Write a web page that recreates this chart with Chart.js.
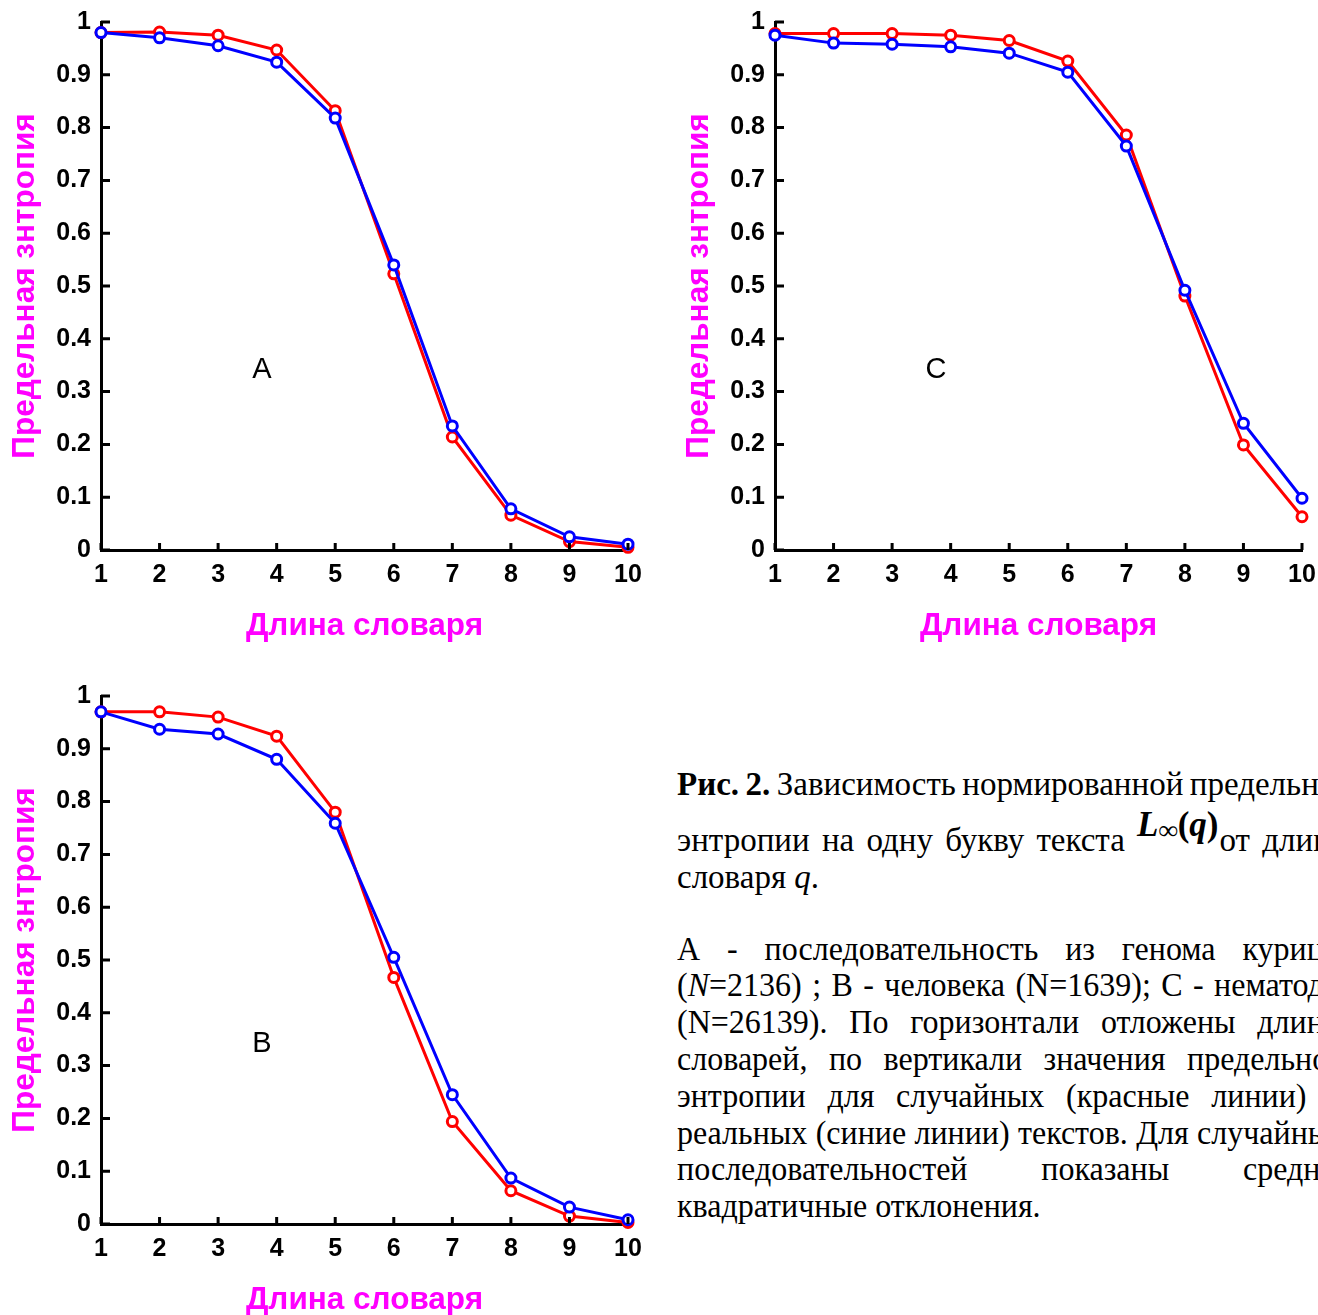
<!DOCTYPE html>
<html lang="ru">
<head>
<meta charset="utf-8">
<script src="https://cdn.jsdelivr.net/npm/chart.js@4.4.1/dist/chart.umd.min.js"></script>
<style>
html, body { margin: 0; padding: 0; background: #fff; }
body { width: 1318px; height: 1315px; overflow: hidden; position: relative; }
.box { position: absolute; width: 660px; height: 660px; }
.cap { position: absolute; left: 677px; font-family: "Liberation Serif", "Times New Roman", serif; font-size: 33px; line-height: 37px; color: #000; white-space: nowrap; transform-origin: 0 0; }
.p1 { transform: scaleX(1); }
.p2 { transform: scaleX(0.97); }
.p1.j { width: 676px; }
.p2.j { width: 689px; }
.j { display: flex; justify-content: space-between; align-items: baseline; }
.f { position: relative; top: -15px; font-size: 35px; margin-right: 1px; }
.f i { font-weight: bold; }
.f sub { font-size: 27px; font-weight: bold; vertical-align: -3px; line-height: 0; }
.f b { font-weight: bold; }
</style>
</head>
<body>
<div class="box" style="left:0;top:0"><canvas id="chartA" width="660" height="660"></canvas></div>
<div class="box" style="left:674px;top:0"><canvas id="chartC" width="660" height="660"></canvas></div>
<div class="box" style="left:0;top:674px"><canvas id="chartB" width="660" height="660"></canvas></div>

<div class="cap p1 j" style="top:766px"><span><b>Рис.</b></span><span><b>2.</b></span><span>Зависимость</span><span>нормированной</span><span>предельной</span></div>
<div class="cap p1 j" style="top:821px"><span>энтропии</span><span>на</span><span>одну</span><span>букву</span><span>текста</span><span><span class="f"><i>L</i><sub>∞</sub><b>(</b><i>q</i><b>)</b></span>от</span><span>длины</span></div>
<div class="cap p1" style="top:859px">словаря <i>q</i>.</div>
<div class="cap p2 j" style="top:931px"><span>А</span><span>-</span><span>последовательность</span><span>из</span><span>генома</span><span>курицы</span></div>
<div class="cap p2 j" style="top:967px"><span>(<i>N</i>=2136)</span><span>;</span><span>B</span><span>-</span><span>человека</span><span>(N=1639);</span><span>C</span><span>-</span><span>нематоды</span></div>
<div class="cap p2 j" style="top:1004px"><span>(N=26139).</span><span>По</span><span>горизонтали</span><span>отложены</span><span>длины</span></div>
<div class="cap p2 j" style="top:1041px"><span>словарей,</span><span>по</span><span>вертикали</span><span>значения</span><span>предельной</span></div>
<div class="cap p2 j" style="top:1078px"><span>энтропии</span><span>для</span><span>случайных</span><span>(красные</span><span>линии)</span><span>и</span></div>
<div class="cap p2 j" style="top:1115px"><span>реальных</span><span>(синие</span><span>линии)</span><span>текстов.</span><span>Для</span><span>случайных</span></div>
<div class="cap p2 j" style="top:1151px"><span>последовательностей</span><span>показаны</span><span>средне-</span></div>
<div class="cap p2" style="top:1188px">квадратичные отклонения.</div>

<script>
// словарь q = 1..10
const xLabels = ['1', '2', '3', '4', '5', '6', '7', '8', '9', '10'];
const yTickValues = [0, 0.1, 0.2, 0.3, 0.4, 0.5, 0.6, 0.7, 0.8, 0.9, 1];
const yTickLabels = ['0', '0.1', '0.2', '0.3', '0.4', '0.5', '0.6', '0.7', '0.8', '0.9', '1'];

// A - курица
const redA  = [0.98, 0.981, 0.975, 0.947, 0.832, 0.523, 0.214, 0.066, 0.016, 0.005];
const blueA = [0.98, 0.970, 0.955, 0.924, 0.818, 0.540, 0.235, 0.078, 0.025, 0.011];
// C - нематода
const redC  = [0.978, 0.978, 0.978, 0.975, 0.965, 0.926, 0.786, 0.481, 0.199, 0.063];
const blueC = [0.975, 0.960, 0.958, 0.953, 0.941, 0.905, 0.765, 0.492, 0.240, 0.098];
// B - человек
const redB  = [0.970, 0.970, 0.960, 0.924, 0.780, 0.467, 0.194, 0.063, 0.015, 0.003];
const blueB = [0.970, 0.937, 0.928, 0.880, 0.759, 0.505, 0.245, 0.087, 0.032, 0.008];

Chart.defaults.font.family = '"Liberation Sans", Arial, sans-serif';
Chart.defaults.color = '#000';

// ticks pointing inside the plot, like the matlab axes
const innerTicks = {
    id: 'innerTicks',
    afterDraw(chart) {
        const ctx = chart.ctx;
        const x = chart.scales.x, y = chart.scales.y;
        ctx.save();
        ctx.strokeStyle = '#000';
        ctx.lineWidth = 3;
        ctx.beginPath();
        y.ticks.forEach(t => {
            const py = y.getPixelForValue(t.value);
            ctx.moveTo(y.right, py);
            ctx.lineTo(y.right + 9, py);
        });
        x.ticks.forEach((t, i) => {
            const px = x.getPixelForTick(i);
            ctx.moveTo(px, x.top);
            ctx.lineTo(px, x.top - 7);
        });
        ctx.stroke();
        ctx.restore();
    }
};

const panelLetter = {
    id: 'panelLetter',
    afterDraw(chart, args, opts) {
        const ctx = chart.ctx;
        ctx.save();
        ctx.font = '29px "Liberation Sans", Arial, sans-serif';
        ctx.fillStyle = '#000';
        ctx.textAlign = 'center';
        ctx.textBaseline = 'middle';
        ctx.fillText(opts.text, chart.scales.x.getPixelForValue(opts.at[0]), chart.scales.y.getPixelForValue(opts.at[1]));
        ctx.restore();
    }
};

function makeChart(id, letter, red, blue) {
    return new Chart(document.getElementById(id), {
        type: 'line',
        data: {
            labels: xLabels,
            datasets: [
                { label: 'реальные', data: blue, borderColor: '#0000ff', pointBorderColor: '#0000ff' },
                { label: 'случайные', data: red, borderColor: '#ff0000', pointBorderColor: '#ff0000' }
            ]
        },
        options: {
            responsive: false,
            animation: false,
            devicePixelRatio: 1,
            layout: { padding: { top: 22, right: 32, left: 0, bottom: 0 } },
            elements: {
                line: { borderWidth: 3, tension: 0 },
                point: { radius: 5, borderWidth: 3, backgroundColor: '#fff' }
            },
            datasets: { line: { clip: false } },
            scales: {
                x: {
                    grid: { display: false },
                    border: { display: true, color: '#000', width: 3 },
                    ticks: { color: '#000', font: { size: 25, weight: 'bold' }, padding: 2, maxRotation: 0, autoSkip: false },
                    title: { display: true, text: 'Длина словаря', color: '#ff00ff', font: { size: 31.5, weight: 'bold' }, padding: { top: 0, bottom: 15 } },
                    afterFit: s => { s.height = 110; }
                },
                y: {
                    min: 0, max: 1,
                    afterBuildTicks: s => { s.ticks = yTickValues.map(v => ({ value: v })); },
                    grid: { display: false },
                    border: { display: true, color: '#000', width: 3 },
                    ticks: { color: '#000', font: { size: 25, weight: 'bold' }, padding: 2, callback: (v, i) => yTickLabels[i] },
                    title: { display: true, text: 'Предельная знтропия', color: '#ff00ff', font: { size: 31.5, weight: 'bold' }, padding: { top: 6, bottom: 0 } },
                    afterFit: s => { s.width = 101; }
                }
            },
            plugins: {
                legend: { display: false },
                tooltip: { enabled: false },
                panelLetter: { text: letter, at: [2.75, 0.34] }
            }
        },
        plugins: [innerTicks, panelLetter]
    });
}

makeChart('chartA', 'A', redA, blueA);
makeChart('chartC', 'C', redC, blueC);
makeChart('chartB', 'B', redB, blueB);
</script>
</body>
</html>
